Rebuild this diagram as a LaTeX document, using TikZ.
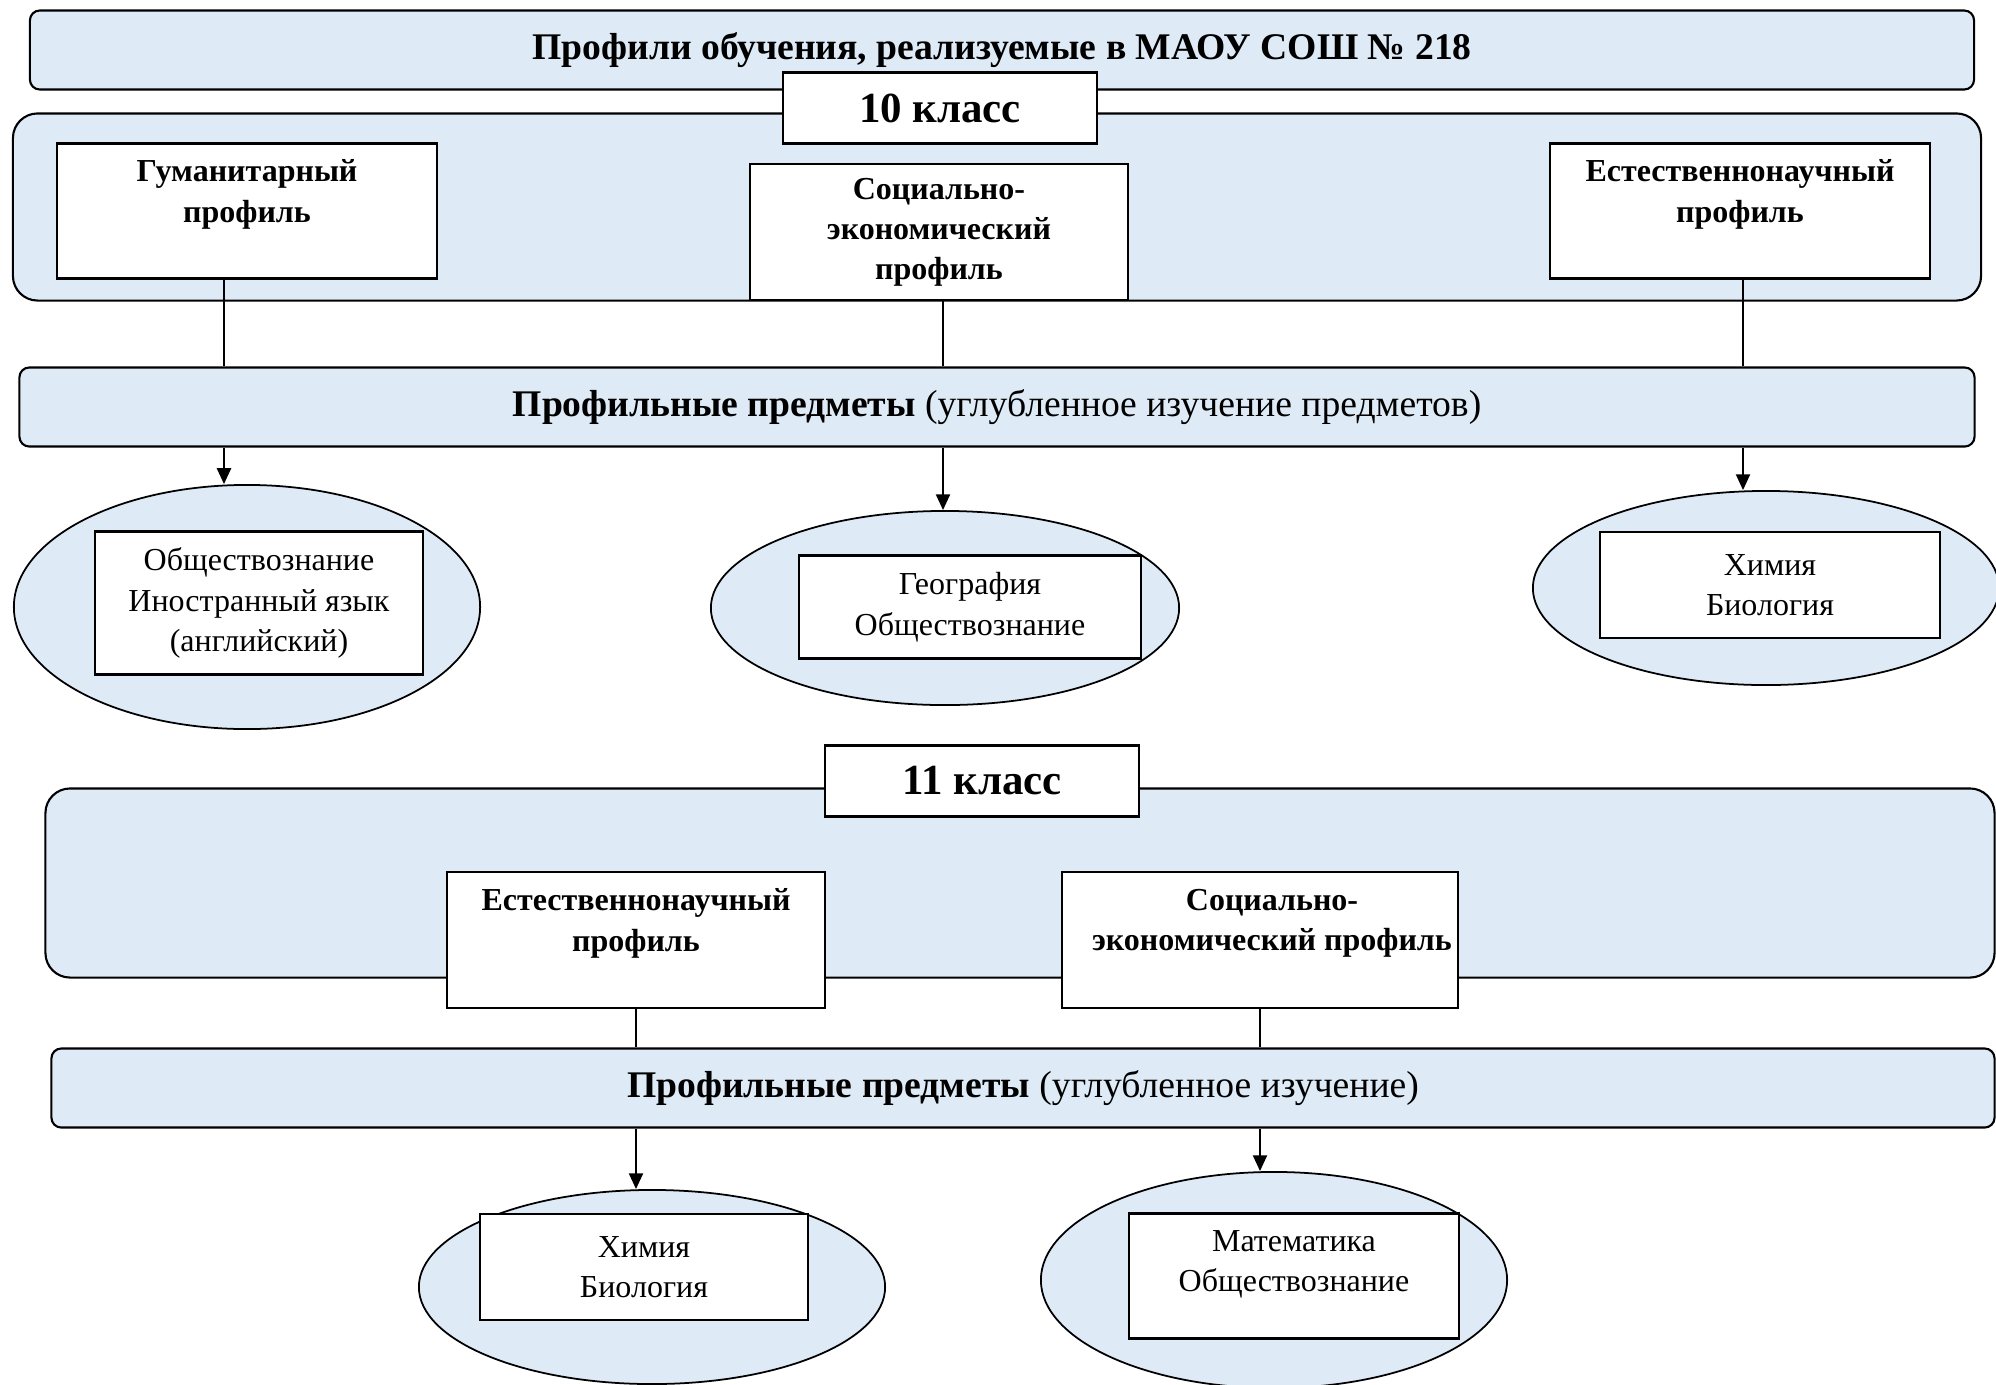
\documentclass[tikz,border=0pt]{standalone}
\usepackage{fontspec}
\setmainfont{Liberation Serif}
\usetikzlibrary{positioning,shapes.geometric,arrows.meta}
\definecolor{boxblue}{RGB}{222,234,246}

\begin{document}
\begin{tikzpicture}[x=0.01cm, y=-0.01cm,
        panel/.style={draw, fill=boxblue, line width=0.6pt, rounded corners=2.8pt, inner sep=0pt},
        bigpanel/.style={panel, rounded corners=7pt},
        plain/.style={draw, fill=white, line width=0.6pt, inner sep=0pt, align=center},
        oval/.style={ellipse, draw, fill=boxblue, line width=0.5pt, inner sep=0pt},
        headtxt/.style={font=\fontsize{10.7}{13}\selectfont\bfseries},
        classtxt/.style={font=\fontsize{12.2}{14}\selectfont\bfseries},
        proftxt/.style={font=\fontsize{9.1}{11.4}\selectfont\bfseries},
        bartxt/.style={font=\fontsize{10.7}{13}\selectfont},
        subjtxt/.style={font=\fontsize{9.1}{11.5}\selectfont},
        link/.style={line width=0.6pt},
        arr/.style={link, -{Triangle[length=4.5pt,width=4pt]}}]
    \useasboundingbox (0,0) rectangle (1996,1384);
    \clip (0,0) rectangle (1996,1384);

    % 10 класс
    \node[panel, minimum width=19.43cm, minimum height=0.79cm, headtxt] (title) at (1002,50)
        {Профили обучения, реализуемые в МАОУ СОШ № 218};
    \node[bigpanel, minimum width=19.67cm, minimum height=1.87cm] (big10) at (997,207) {};
    \node[plain, minimum width=3.14cm, minimum height=0.71cm, classtxt] (k10) at (940,108) {10 класс};

    \node[plain, minimum width=3.80cm, minimum height=1.35cm, proftxt] (hum) at (247,211)
        {Гуманитарный\\профиль\\\mbox{}};
    \node[plain, minimum width=3.78cm, minimum height=1.36cm, proftxt] (soc) at (939,232)
        {Социально-\\экономический\\профиль};
    \node[plain, minimum width=3.79cm, minimum height=1.35cm, proftxt] (nat) at (1740,211)
        {Естественнонаучный\\профиль\\\mbox{}};

    \node[panel, minimum width=19.54cm, minimum height=0.79cm, bartxt] (bar1) at (997,407)
        {\textbf{Профильные предметы} (углубленное изучение предметов)};

    \coordinate (humx) at ([xshift=-0.23cm]hum.south);
    \coordinate (socx) at ([xshift=0.04cm]soc.south);
    \coordinate (natx) at ([xshift=0.03cm]nat.south);
    \draw[link] (humx) -- (humx |- bar1.north);
    \draw[link] (socx) -- (socx |- bar1.north);
    \draw[link] (natx) -- (natx |- bar1.north);

    \node[oval, minimum width=4.66cm, minimum height=2.44cm] (e1) at (247,607) {};
    \node[oval, minimum width=4.68cm, minimum height=1.94cm] (e2) at (945,608) {};
    \node[oval, minimum width=4.66cm, minimum height=1.94cm] (e3) at (1766,588) {};

    \draw[arr] (humx |- bar1.south) -- (humx |- e1.north);
    \draw[arr] (socx |- bar1.south) -- (socx |- e2.north);
    \draw[arr] (natx |- bar1.south) -- (natx |- e3.north);

    \node[plain, minimum width=3.28cm, minimum height=1.43cm, subjtxt] (in1) at (259,603)
        {Обществознание\\Иностранный язык\\(английский)};
    \node[plain, minimum width=3.41cm, minimum height=1.03cm, subjtxt] (in2) at (970,607)
        {География\\Обществознание};
    \node[plain, minimum width=3.40cm, minimum height=1.06cm, subjtxt] (in3) at (1770,585)
        {Химия\\Биология};

    % 11 класс
    \node[bigpanel, minimum width=19.48cm, minimum height=1.89cm] (big11) at (1020,883) {};
    \node[plain, minimum width=3.14cm, minimum height=0.71cm, classtxt] (k11) at (982,781) {11 класс};

    \node[plain, minimum width=3.78cm, minimum height=1.36cm, proftxt] (nat11) at (636,940)
        {Естественнонаучный\\профиль\\\mbox{}};
    \node[plain, minimum width=3.96cm, minimum height=1.36cm, proftxt] (soc11) at (1260,940)
        {\hspace*{0.24cm}Социально-\\\hspace*{0.24cm}экономический профиль\\\mbox{}};

    \node[panel, minimum width=19.42cm, minimum height=0.79cm, bartxt] (bar2) at (1023,1088)
        {\textbf{Профильные предметы} (углубленное изучение)};

    \draw[link] (nat11.south) -- (nat11.south |- bar2.north);
    \draw[link] (soc11.south) -- (soc11.south |- bar2.north);

    \node[oval, minimum width=4.66cm, minimum height=1.94cm] (e4) at (652,1287) {};
    \node[oval, minimum width=4.66cm, minimum height=2.16cm] (e5) at (1274,1280) {};

    \draw[arr] (nat11.south |- bar2.south) -- (nat11.south |- e4.north);
    \draw[arr] (soc11.south |- bar2.south) -- (soc11.south |- e5.north);

    \node[plain, minimum width=3.28cm, minimum height=1.06cm, subjtxt] (in4) at (644,1267)
        {Химия\\Биология};
    \node[plain, minimum width=3.29cm, minimum height=1.25cm, subjtxt] (in5) at (1294,1276)
        {Математика\\Обществознание\rule[-0.3cm]{0pt}{0pt}};
\end{tikzpicture}
\end{document}
